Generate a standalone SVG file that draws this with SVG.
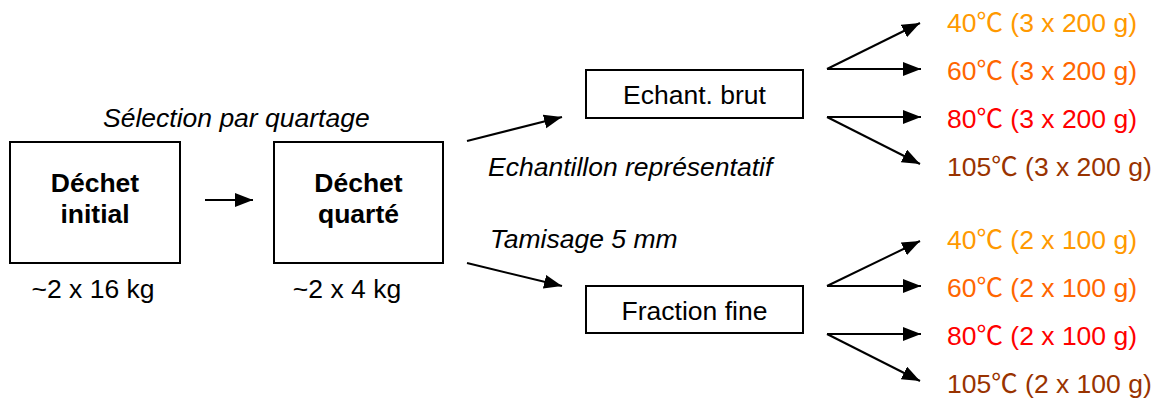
<svg xmlns="http://www.w3.org/2000/svg" width="1157" height="399" viewBox="0 0 1157 399">
<style>
text{font-family:"Liberation Sans",Arial,"Noto Sans CJK SC",sans-serif;font-size:26.5px;fill:#000}
.b{font-weight:bold}
.i{font-style:italic}
.m{text-anchor:middle}
.box{fill:#fff;stroke:#000;stroke-width:2}
.c{stroke:#000;stroke-width:2;fill:none;marker-end:url(#ah)}
.t40{fill:#FF9900}.t60{fill:#FF6600}.t80{fill:#FF0000}.t105{fill:#993300}
</style>
<defs>
<marker id="ah" markerUnits="userSpaceOnUse" markerWidth="19" markerHeight="15" refX="18" refY="7" orient="auto">
<path d="M0,0 L18,7 L0,14 z" fill="#000"/>
</marker>
</defs>
<rect width="1157" height="399" fill="#fff"/>
<g id="connectors">
<line class="c" x1="205" y1="200" x2="253" y2="200"/>
<line class="c" x1="467" y1="141" x2="562" y2="117"/>
<line class="c" x1="467" y1="263" x2="562" y2="286"/>
<line class="c" x1="827" y1="69" x2="920" y2="23"/>
<line class="c" x1="827" y1="69" x2="921" y2="69"/>
<line class="c" x1="827" y1="117" x2="921" y2="117"/>
<line class="c" x1="827" y1="117" x2="920" y2="164"/>
<line class="c" x1="827" y1="286" x2="920" y2="241"/>
<line class="c" x1="827" y1="286" x2="921" y2="286"/>
<line class="c" x1="827" y1="334" x2="921" y2="334"/>
<line class="c" x1="827" y1="334" x2="920" y2="381"/>
</g>
<g id="dechet-initial">
<rect class="box" x="10" y="142" width="170" height="121"/>
<text class="b m" x="95" y="192">Déchet</text>
<text class="b m" x="95" y="223">initial</text>
<text class="m" x="93" y="298">~2 x 16 kg</text>
</g>
<g id="dechet-quarte">
<rect class="box" x="274" y="142" width="169" height="121"/>
<text class="b m" x="358.5" y="192">Déchet</text>
<text class="b m" x="358.5" y="223">quarté</text>
<text class="m" x="347" y="298">~2 x 4 kg</text>
</g>
<g id="label-selection"><text class="i" x="103" y="127">Sélection par quartage</text></g>
<g id="echant-brut">
<rect class="box" x="586" y="70" width="217" height="48"/>
<text class="m" x="694.5" y="104">Echant. brut</text>
</g>
<g id="label-echantillon"><text class="i" x="488" y="176">Echantillon représentatif</text></g>
<g id="label-tamisage"><text class="i" x="490" y="248">Tamisage 5 mm</text></g>
<g id="fraction-fine">
<rect class="box" x="586" y="286" width="217" height="47"/>
<text class="m" x="694.5" y="320">Fraction fine</text>
</g>
<g id="brut-results">
<text class="t40" x="947" y="32">40℃ (3 x 200 g)</text>
<text class="t60" x="947" y="80">60℃ (3 x 200 g)</text>
<text class="t80" x="947" y="128">80℃ (3 x 200 g)</text>
<text class="t105" x="947" y="176">105℃ (3 x 200 g)</text>
</g>
<g id="fine-results">
<text class="t40" x="947" y="249">40℃ (2 x 100 g)</text>
<text class="t60" x="947" y="297">60℃ (2 x 100 g)</text>
<text class="t80" x="947" y="345">80℃ (2 x 100 g)</text>
<text class="t105" x="947" y="393">105℃ (2 x 100 g)</text>
</g>
</svg>
